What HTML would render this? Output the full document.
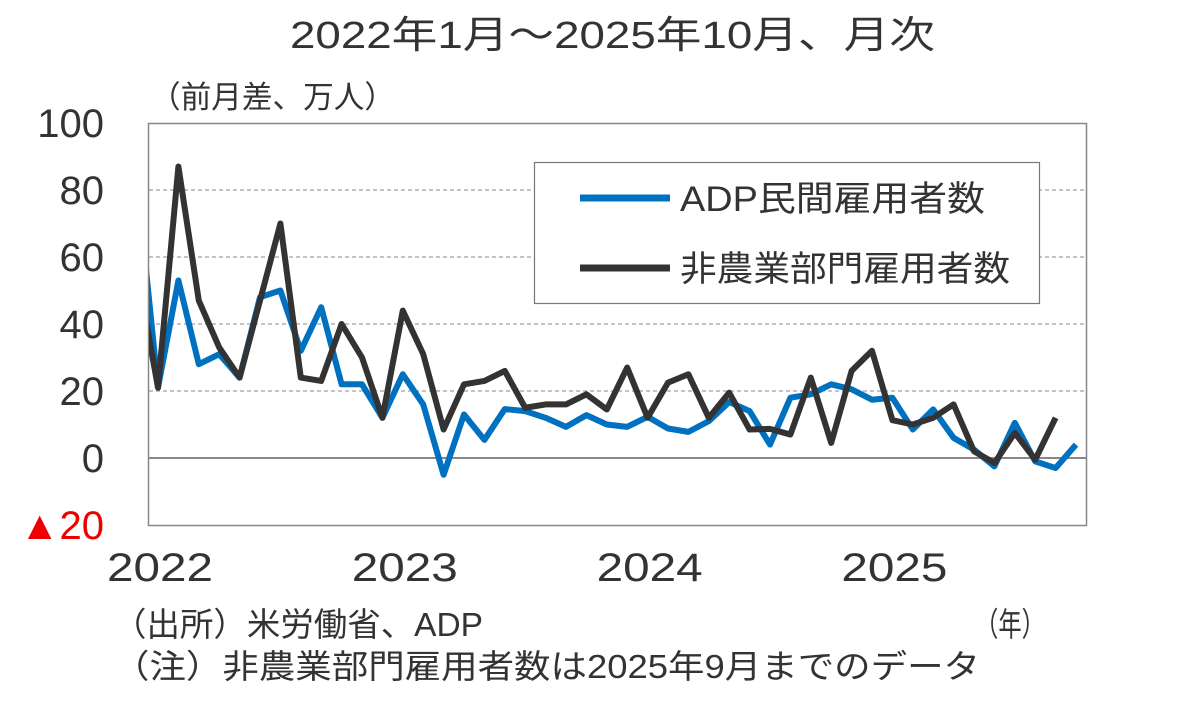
<!DOCTYPE html>
<html><head><meta charset="utf-8"><style>
html,body{margin:0;padding:0;background:#fff;width:1186px;height:701px;overflow:hidden}
svg text{font-family:"Liberation Sans","Noto Sans CJK JP",sans-serif;fill:#333}
</style></head><body>
<svg id="chart" width="1186" height="701">
<defs><clipPath id="plotclip"><rect x="149" y="100" width="937" height="440"/></clipPath></defs>
<text x="290" y="48" font-size="38" textLength="645" lengthAdjust="spacingAndGlyphs">2022年1月～2025年10月、月次</text>
<text x="150" y="108" font-size="31" textLength="245" lengthAdjust="spacingAndGlyphs">（前月差、万人）</text>
<rect x="148.5" y="123.5" width="938" height="402" fill="none" stroke="#888" stroke-width="1.5"/>
<g id="grid"></g>
<g id="yticks"></g>
<g id="xticks"></g>
<g id="series" clip-path="url(#plotclip)"></g>
<g>
<rect x="534.5" y="162.5" width="505" height="141" fill="#fff" stroke="#777" stroke-width="1.2"/>
<line x1="580" y1="198" x2="670" y2="198" stroke="#0070C0" stroke-width="7"/>
<text x="680" y="211" font-size="35" textLength="305" lengthAdjust="spacingAndGlyphs">ADP民間雇用者数</text>
<line x1="580" y1="268" x2="670" y2="268" stroke="#333" stroke-width="7"/>
<text x="680" y="281" font-size="35" textLength="330" lengthAdjust="spacingAndGlyphs">非農業部門雇用者数</text>
</g>
<text x="975" y="636" font-size="33" textLength="70" lengthAdjust="spacingAndGlyphs">（年）</text>
<text x="113" y="636" font-size="33" textLength="370" lengthAdjust="spacingAndGlyphs">（出所）米労働省、ADP</text>
<text x="113" y="678" font-size="33" textLength="867" lengthAdjust="spacingAndGlyphs">（注）非農業部門雇用者数は2025年9月までのデータ</text>
</svg>
<script>
const yTicks=[100,80,60,40,20,0,-20];
const yLabels=["100","80","60","40","20","0","▲20"];
const xLabels=["2022","2023","2024","2025"];
// months from Dec 2021 (index 0) to Oct 2025
const adp=[81,21,53,28,31,24,48,50,32,45,22,22,12,25,16,-5,13,5.4,14.6,14,12,9.3,12.8,10,9.3,12.3,8.8,7.8,11,16.7,14,4,18,19,22,20.5,17.4,18,8.5,14.5,6,2.5,-2.5,10.5,-1,-3,4];
const nfp=[55,21,87,47,33,24,47,70,24,23,40,30,12,44,31,8.5,22,23,26,15,16,16,19,14.5,27,12,22.5,25,12,19.5,8.5,8.7,7,24,4.5,26,32,11.3,10,12,16,2,-1.5,7.5,-0.5,12];
const NS="http://www.w3.org/2000/svg";
const X0=158,DX=20.4;
function xPos(i){return X0+(i-1)*DX;}
function yPos(v){return 458-v*3.35;}
const grid=document.getElementById('grid'),yt=document.getElementById('yticks'),xt=document.getElementById('xticks'),ser=document.getElementById('series');
yTicks.forEach((v,k)=>{
  if(v>0&&v<100){
    const l=document.createElementNS(NS,'line');
    l.setAttribute('x1',149);l.setAttribute('x2',1086);l.setAttribute('y1',yPos(v));l.setAttribute('y2',yPos(v));
    l.setAttribute('stroke','#888');l.setAttribute('stroke-dasharray','4 3');l.setAttribute('stroke-width','1');
    
    
    grid.appendChild(l);
  }
  if(v===0){
    const l=document.createElementNS(NS,'line');
    l.setAttribute('x1',149);l.setAttribute('x2',1086);l.setAttribute('y1',yPos(v));l.setAttribute('y2',yPos(v));
    l.setAttribute('stroke','#888');l.setAttribute('stroke-width','2');
    
    
    grid.appendChild(l);
  }
  const t=document.createElementNS(NS,'text');
  t.setAttribute('x',104);t.setAttribute('y',yPos(v)+14);t.setAttribute('font-size','40');t.setAttribute('text-anchor','end');
  if(v<0)t.setAttribute('style','fill:#e00');
  t.textContent=yLabels[k];
  
  
  yt.appendChild(t);
});
xLabels.forEach((s,k)=>{
  const t=document.createElementNS(NS,'text');
  t.setAttribute('x',xPos(1+k*12)+2);t.setAttribute('y',581);t.setAttribute('font-size','40');t.setAttribute('text-anchor','middle');
  t.setAttribute('textLength','106');t.setAttribute('lengthAdjust','spacingAndGlyphs');
  t.textContent=s;
  
  
  xt.appendChild(t);
});
function line(arr,color,name){
  const p=document.createElementNS(NS,'polyline');
  p.setAttribute('points',arr.map((v,i)=>xPos(i)+','+yPos(v)).join(' '));
  p.setAttribute('fill','none');p.setAttribute('stroke',color);p.setAttribute('stroke-width','6');p.setAttribute('stroke-linejoin','round');
  
  
  ser.appendChild(p);
}
line(adp,'#0070C0','adp-line');
line(nfp,'#333','nfp-line');
</script>
</body></html>
